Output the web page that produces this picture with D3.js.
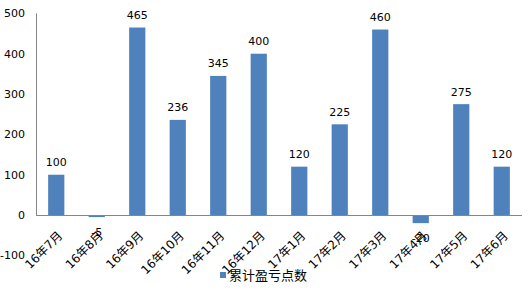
<!DOCTYPE html>
<html>
<head>
<meta charset="utf-8">
<script src="https://cdn.jsdelivr.net/npm/d3@7"></script>
<style>
  body { margin: 0; background: #fff; }
  text { font-family: "DejaVu Sans", "Noto Sans CJK SC", sans-serif; }
</style>
</head>
<body>
<div id="chart"></div>
<script>
// Chart data
var months = ["16年7月", "16年8月", "16年9月", "16年10月", "16年11月", "16年12月",
  "17年1月", "17年2月", "17年3月", "17年4月", "17年5月", "17年6月"];
var points = [100, -5, 465, 236, 345, 400, 120, 225, 460, -20, 275, 120];
var yTicks = [-100, 0, 100, 200, 300, 400, 500];
var seriesName = "累计盈亏点数";

var svgWidth = 529;
var svgHeight = 291;

var plotLeft = 36, plotRight = 522;

var svg = d3.select("#chart")
  .append("svg")
  .attr("width", svgWidth)
  .attr("height", svgHeight);

var xScale = d3.scaleBand()
  .domain(months)
  .range([plotLeft, plotRight])
  .paddingInner(0.6)
  .paddingOuter(0.3);

var yScale = d3.scaleLinear()
  .domain([-100, 500])
  .range([255.4, 13.4]);

var barColor = "#4F81BD";

// y tick labels
svg.append("g")
  .selectAll("text")
  .data(yTicks)
  .enter()
  .append("text")
  .attr("x", 25)
  .attr("y", d => yScale(d))
  .attr("dy", "0.36em")
  .attr("text-anchor", "end")
  .attr("font-size", 11)
  .attr("fill", "#000")
  .text(d => d);

// bars
svg.append("g")
  .selectAll("rect")
  .data(points)
  .enter()
  .append("rect")
  .attr("x", (d, i) => xScale(months[i]))
  .attr("width", xScale.bandwidth())
  .attr("y", d => yScale(Math.max(d, 0)))
  .attr("height", d => Math.abs(yScale(d) - yScale(0)))
  .attr("fill", barColor);

// axis lines
svg.append("line")
  .attr("x1", plotLeft + 0.5).attr("x2", plotLeft + 0.5)
  .attr("y1", yScale(500)).attr("y2", yScale(0))
  .attr("stroke", "#868686");
svg.append("line")
  .attr("x1", plotLeft).attr("x2", plotRight)
  .attr("y1", Math.round(yScale(0)) + 0.5).attr("y2", Math.round(yScale(0)) + 0.5)
  .attr("stroke", "#868686");

// value labels
svg.append("g")
  .selectAll("text")
  .data(points)
  .enter()
  .append("text")
  .attr("x", (d, i) => xScale(months[i]) + xScale.bandwidth() / 2)
  .attr("y", d => d >= 0 ? yScale(d) - 8.5 : yScale(d) + 19)
  .attr("text-anchor", "middle")
  .attr("font-size", 11)
  .attr("fill", "#000")
  .text(d => d);

// category labels
svg.append("g")
  .selectAll("text")
  .data(months)
  .enter()
  .append("text")
  .attr("transform", d => `translate(${xScale(d) + xScale.bandwidth() / 2 + 1}, 230.5) rotate(-45)`)
  .attr("text-anchor", "end")
  .attr("dy", "0.7em")
  .attr("font-size", 12)
  .attr("fill", "#000")
  .text(d => d);

// legend
svg.append("rect")
  .attr("x", 220).attr("y", 272)
  .attr("width", 6).attr("height", 6)
  .attr("fill", barColor);
svg.append("text")
  .attr("x", 229).attr("y", 280)
  .attr("font-size", 13)
  .attr("fill", "#000")
  .text(seriesName);
</script>
</body>
</html>
